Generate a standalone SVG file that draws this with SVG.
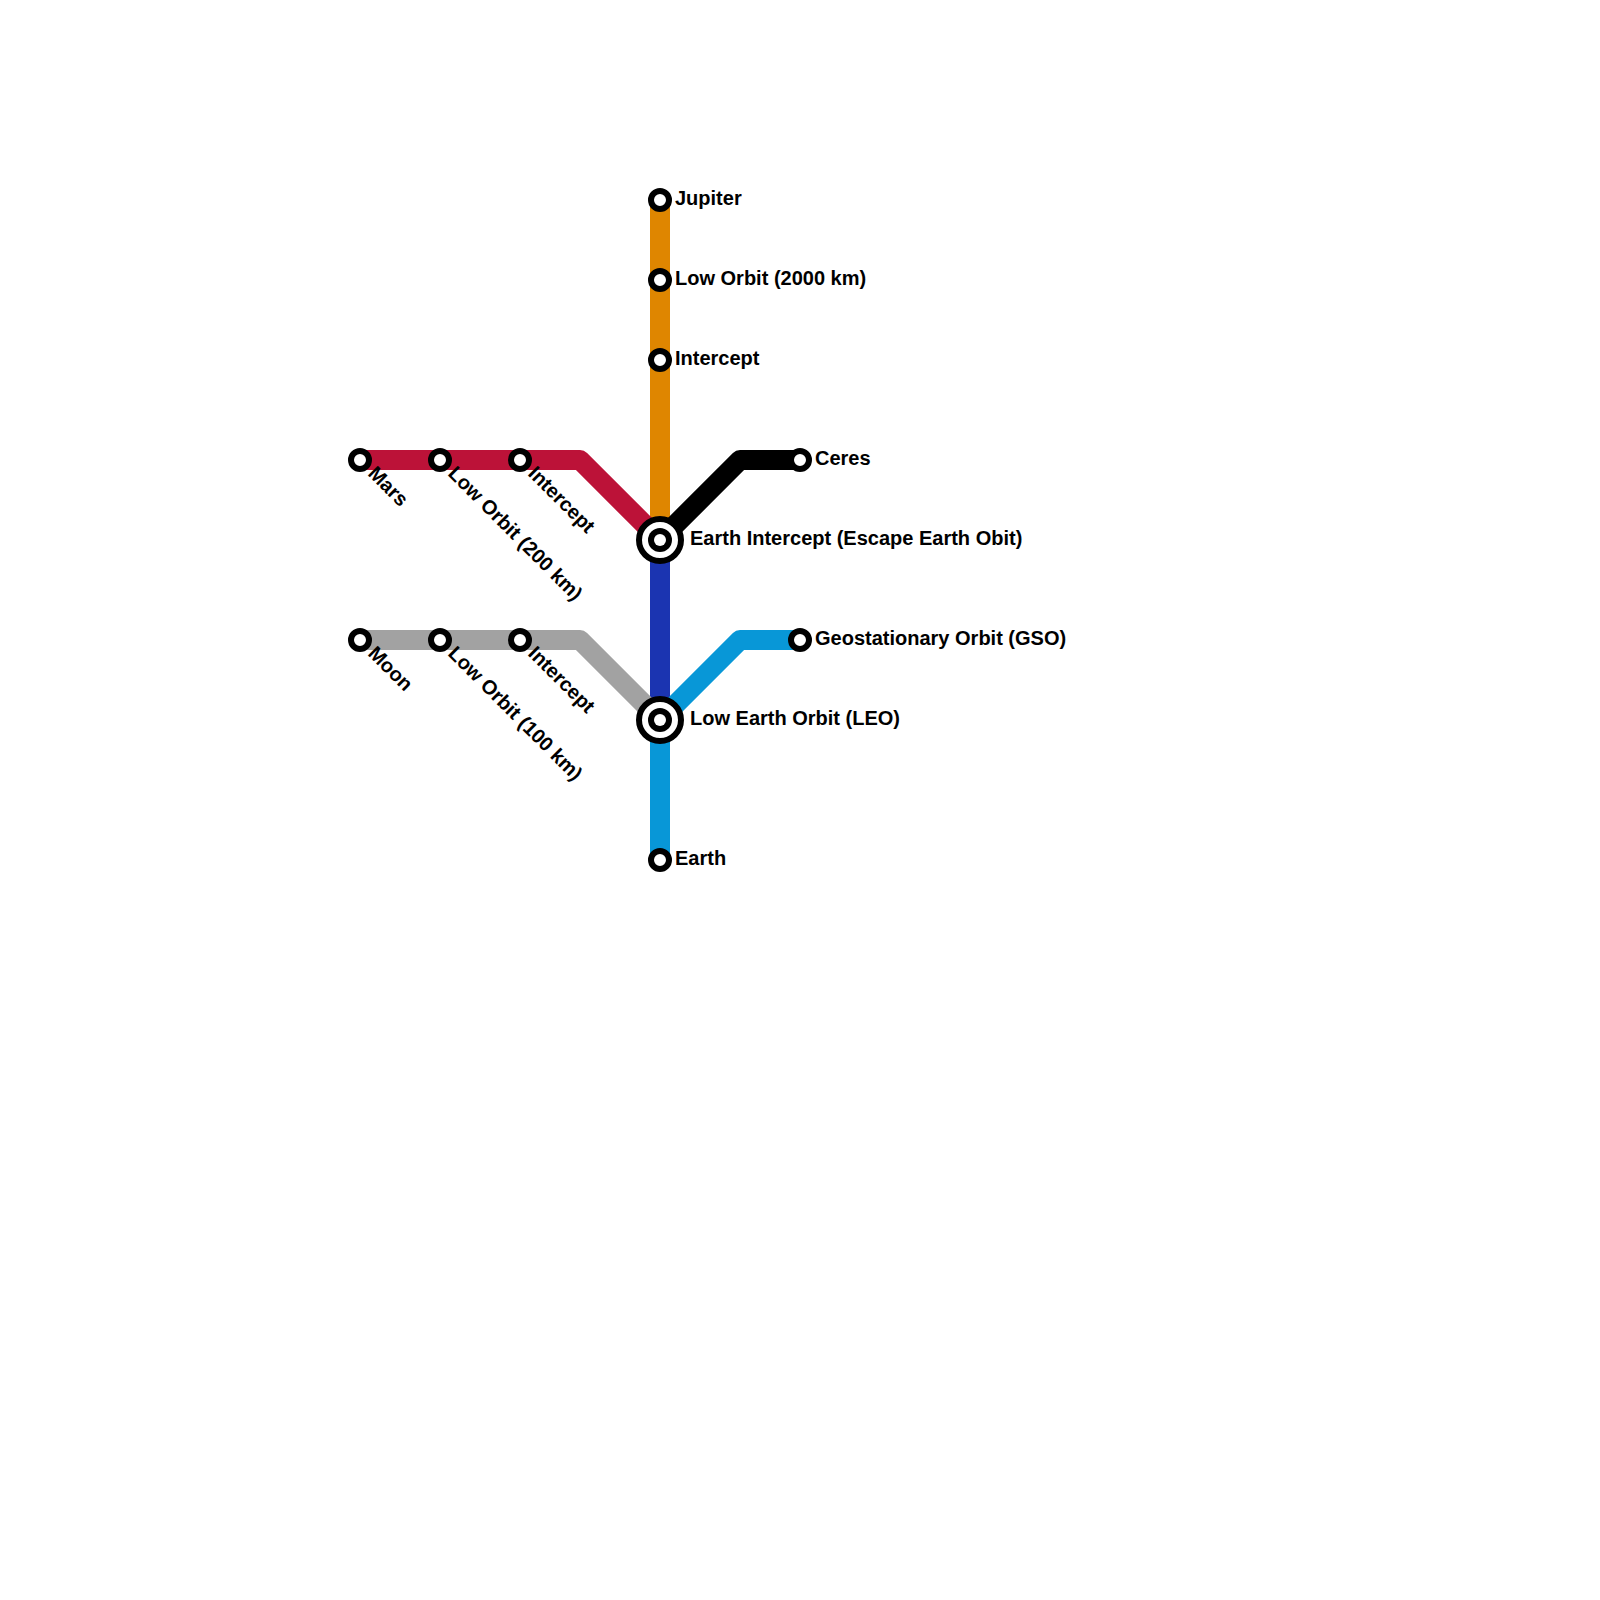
<svg xmlns="http://www.w3.org/2000/svg" width="1600" height="1600" viewBox="0 0 1600 1600">
<style>
.l{fill:none;stroke-width:20;stroke-linejoin:round}
.s{fill:#fff;stroke:#000;stroke-width:6}
.o{fill:#fff;stroke:#000;stroke-width:6}
.i{fill:#000}
text{font-family:"Liberation Sans",Arial,sans-serif;font-weight:700;font-size:20px;fill:#000}
</style>
<rect width="1600" height="1600" fill="#fff"/>
<g id="connectors">
<path class="l" stroke="#df8600" d="M660 200V540"/>
<path class="l" stroke="#bc1238" d="M360 460H580L660 540"/>
<path class="l" stroke="#000" d="M660 540L740 460H800"/>
<path class="l" stroke="#1b34b1" d="M660 540V720"/>
<path class="l" stroke="#a2a2a2" d="M360 640H580L660 720"/>
<path class="l" stroke="#0897d7" d="M660 860V720L740 640H800"/>
</g>
<g id="jupiter"><circle class="s" cx="660" cy="200" r="9"/><text x="675" y="205">Jupiter</text></g>
<g id="low-orbit-2000"><circle class="s" cx="660" cy="280" r="9"/><text x="675" y="285">Low Orbit (2000 km)</text></g>
<g id="intercept-jupiter"><circle class="s" cx="660" cy="360" r="9"/><text x="675" y="365">Intercept</text></g>
<g id="ceres"><circle class="s" cx="800" cy="460" r="9"/><text x="815" y="465">Ceres</text></g>
<g id="earth-intercept"><circle class="o" cx="660" cy="540" r="21"/><circle class="i" cx="660" cy="540" r="12"/><circle fill="#fff" cx="660" cy="540" r="6"/><text x="690" y="545">Earth Intercept (Escape Earth Obit)</text></g>
<g id="geo"><circle class="s" cx="800" cy="640" r="9"/><text x="815" y="645">Geostationary Orbit (GSO)</text></g>
<g id="leo"><circle class="o" cx="660" cy="720" r="21"/><circle class="i" cx="660" cy="720" r="12"/><circle fill="#fff" cx="660" cy="720" r="6"/><text x="690" y="725">Low Earth Orbit (LEO)</text></g>
<g id="earth"><circle class="s" cx="660" cy="860" r="9"/><text x="675" y="865">Earth</text></g>
<g id="mars"><circle class="s" cx="360" cy="460" r="9"/><text transform="translate(367 474.5) rotate(45)">Mars</text></g>
<g id="low-orbit-200"><circle class="s" cx="440" cy="460" r="9"/><text transform="translate(447 474.5) rotate(45)">Low Orbit (200 km)</text></g>
<g id="intercept-mars"><circle class="s" cx="520" cy="460" r="9"/><text transform="translate(527 474.5) rotate(45)">Intercept</text></g>
<g id="moon"><circle class="s" cx="360" cy="640" r="9"/><text transform="translate(367 654.5) rotate(45)">Moon</text></g>
<g id="low-orbit-100"><circle class="s" cx="440" cy="640" r="9"/><text transform="translate(447 654.5) rotate(45)">Low Orbit (100 km)</text></g>
<g id="intercept-moon"><circle class="s" cx="520" cy="640" r="9"/><text transform="translate(527 654.5) rotate(45)">Intercept</text></g>
</svg>
